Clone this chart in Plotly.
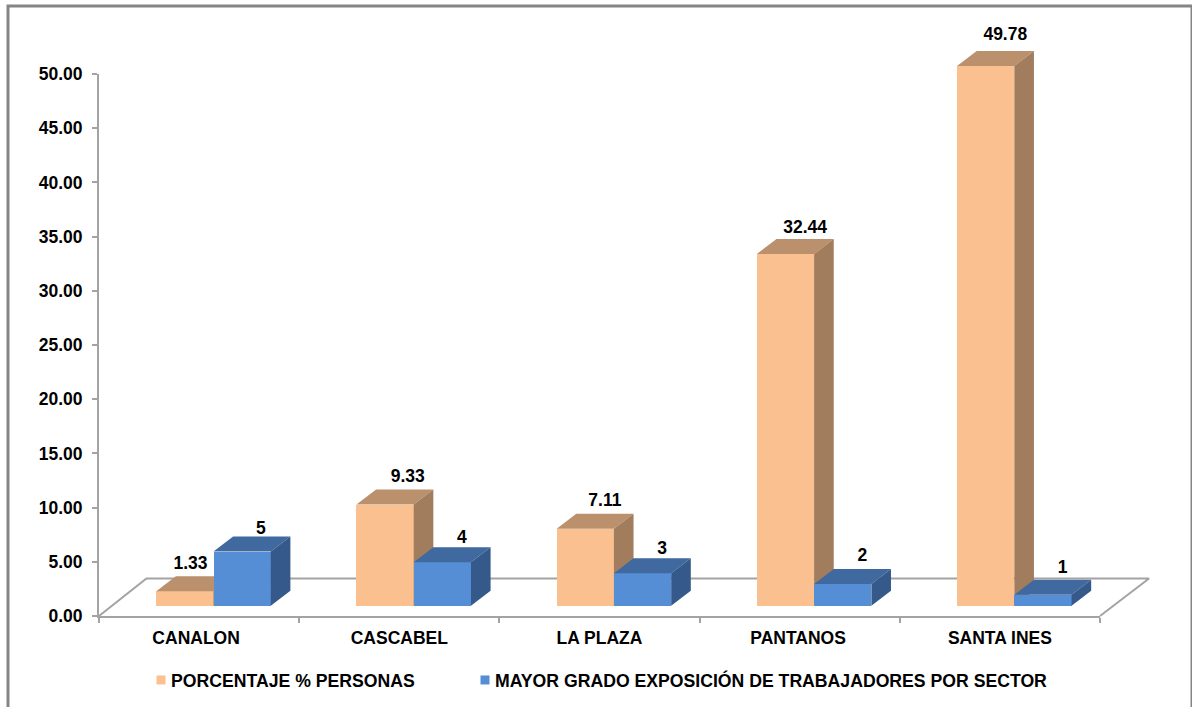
import plotly.graph_objects as go

categories = ["CANALON", "CASCABEL", "LA PLAZA", "PANTANOS", "SANTA INES"]
porcentaje = [1.33, 9.33, 7.11, 32.44, 49.78]
grado = [5, 4, 3, 2, 1]
name_a = "PORCENTAJE % PERSONAS"
name_b = "MAYOR GRADO EXPOSICIÓN DE TRABAJADORES POR SECTOR"
y_ticks = [0, 5, 10, 15, 20, 25, 30, 35, 40, 45, 50]

# page geometry
W = 1192; H = 707
L = 99; R = 1100; T = 74; B = 616        # where the drawn axes sit
OL = 40; OR = 1185; OT = 12; OB = 660    # larger area for the unclipped 3D layers
BAR_W = 0.286; SHIFT = 0.072
DX = 0.098; DY = 1.384; BASE = 0.95
FONT = "Liberation Sans, Arial, sans-serif"
GREY = "#A3A3A3"
ORANGE = ("#FAC090", "#BB906C", "#A17C5D")
BLUE = ("#558ED5", "#406A9F", "#35598A")
XR = [-0.5, 4.5]; YR = [0, 50]

ow = OR - OL; oh = OB - OT
ux = (XR[1] - XR[0]) / (R - L); uy = (YR[1] - YR[0]) / (B - T)
XR_O = [XR[0] + (OL - L) * ux, XR[1] + (OR - R) * ux]
YR_O = [YR[0] + (B - OB) * uy, YR[1] + (T - OT) * uy]


def faces(vals, left):
    tx, ty, sx, sy = [], [], [], []
    for i, v in enumerate(vals):
        a = i + left; b = a + BAR_W; t = v + BASE
        tx += [a, b, b + DX, a + DX, a, None]
        ty += [t, t, t + DY, t + DY, t, None]
        sx += [b, b + DX, b + DX, b, b, None]
        sy += [BASE, BASE + DY, t + DY, t, BASE, None]
    return (tx, ty), (sx, sy)


def poly(xy, color, xa, ya):
    return go.Scatter(x=xy[0], y=xy[1], mode="lines", fill="toself", fillcolor=color,
                      line=dict(width=0, color=color), hoverinfo="skip", showlegend=False,
                      xaxis=xa, yaxis=ya)


def bars(vals, left, color, xa, ya, name):
    return go.Bar(x=list(range(len(vals))), y=vals, base=BASE, width=BAR_W, offset=left,
                  marker=dict(color=color, line=dict(width=0)), name=name, showlegend=False,
                  xaxis=xa, yaxis=ya)


fig = go.Figure()
# carrier trace so the main axes are drawn
fig.add_trace(go.Scatter(x=[None], y=[None], mode="lines", hoverinfo="skip", showlegend=False))
# floor
fig.add_trace(go.Scatter(x=[-0.5, -0.263, 4.745, 4.5], y=[0, 3.46, 3.46, 0], mode="lines",
                         line=dict(color=GREY, width=2), hoverinfo="skip", showlegend=False,
                         xaxis="x2", yaxis="y2"))
# orange
la = SHIFT - BAR_W
ta, sa = faces(porcentaje, la)
fig.add_trace(bars(porcentaje, la, ORANGE[0], "x3", "y3", name_a))
fig.add_trace(poly(ta, ORANGE[1], "x3", "y3"))
fig.add_trace(poly(sa, ORANGE[2], "x3", "y3"))
# blue
lb = SHIFT
tb, sb = faces(grado, lb)
fig.add_trace(bars(grado, lb, BLUE[0], "x4", "y4", name_b))
fig.add_trace(poly(tb, BLUE[1], "x4", "y4"))
fig.add_trace(poly(sb, BLUE[2], "x4", "y4"))

# data labels (small hand placement, as in the reference)
nudge_ax = [-0.07, 0.015, 0, 0, 0]
nudge_ay = [0.3, 0.3, 0.3, 0.2, 0.6]
nudge_bx = [-0.005, 0, 0, 0, 0]
nudge_by = [-0.15, 0, 0, 0.35, 0.2]
label_font = dict(family=FONT, size=17.5, color="#000000", weight="bold")
fig.add_trace(go.Scatter(
    x=[i + la + BAR_W / 2 + DX + n for i, n in enumerate(nudge_ax)],
    y=[v + BASE + DY + n for v, n in zip(porcentaje, nudge_ay)], mode="text",
    text=[f"{v:.2f}" for v in porcentaje], textposition="top center", textfont=label_font,
    hoverinfo="skip", showlegend=False, xaxis="x4", yaxis="y4"))
fig.add_trace(go.Scatter(
    x=[i + lb + BAR_W / 2 + DX + n for i, n in enumerate(nudge_bx)],
    y=[v + BASE + DY + n for v, n in zip(grado, nudge_by)], mode="text",
    text=[str(v) for v in grado], textposition="top center", textfont=label_font,
    hoverinfo="skip", showlegend=False, xaxis="x4", yaxis="y4"))

# legend entries
for nm, col, lg in ((name_a, ORANGE[0], "legend"), (name_b, BLUE[0], "legend2")):
    fig.add_trace(go.Scatter(x=[None], y=[None], mode="markers", name=nm, legend=lg, showlegend=True,
                             marker=dict(symbol="square", size=9, color=col, angle=90, standoff=10)))

hidden = dict(visible=False, fixedrange=True)
legend_common = dict(orientation="h", xref="paper", yref="paper", y=(OB - 662) / oh,
                     xanchor="left", yanchor="top",
                     font=dict(family=FONT, size=17.65, weight="bold"), bgcolor="rgba(0,0,0,0)",
                     itemclick=False, itemdoubleclick=False)
tick_shift = [-0.015, 0, 0, -0.008, 0]
fig.update_layout(
    width=W, height=H, autosize=False,
    margin=dict(l=OL, r=W - OR, t=OT, b=H - OB, pad=0, autoexpand=False),
    paper_bgcolor="#FFFFFF", plot_bgcolor="rgba(0,0,0,0)",
    font=dict(family=FONT, size=17, color="#000000"),
    bargap=0,
    xaxis=dict(domain=[(L - OL) / ow, (R - OL) / ow], range=XR, anchor="y",
               tickmode="array", tickvals=[i + s for i, s in enumerate(tick_shift)], ticktext=categories,
               ticks="", showgrid=False, zeroline=False, showline=True, linecolor=GREY, linewidth=2,
               tickfont=dict(family=FONT, size=17.5, weight="bold"), ticklabelstandoff=5,
               minor=dict(tickmode="array", tickvals=[-0.5, 0.5, 1.5, 2.5, 3.5, 4.5], ticks="outside",
                          ticklen=5, tickwidth=1.5, tickcolor=GREY, showgrid=False)),
    yaxis=dict(domain=[(OB - B) / oh, (OB - T) / oh], range=YR, anchor="x",
               tickmode="array", tickvals=y_ticks, ticktext=[f"{v:.2f}" for v in y_ticks],
               ticks="outside", ticklen=5, tickwidth=1.5, tickcolor=GREY, showgrid=False, zeroline=False,
               showline=True, linecolor=GREY, linewidth=2, ticklabelstandoff=6,
               tickfont=dict(family=FONT, size=17.5, weight="bold")),
    xaxis2=dict(range=XR_O, domain=[0, 1], anchor="y2", **hidden),
    yaxis2=dict(range=YR_O, domain=[0, 1], anchor="x2", **hidden),
    xaxis3=dict(range=XR_O, domain=[0, 1], anchor="y3", **hidden),
    yaxis3=dict(range=YR_O, domain=[0, 1], anchor="x3", **hidden),
    xaxis4=dict(range=XR_O, domain=[0, 1], anchor="y4", **hidden),
    yaxis4=dict(range=YR_O, domain=[0, 1], anchor="x4", **hidden),
    legend=dict(x=(131 - OL) / ow, **legend_common),
    legend2=dict(x=(455 - OL) / ow, **legend_common),
    shapes=[dict(type="rect", xref="paper", yref="paper",
                 x0=(8 - OL) / ow, x1=(1192 - OL) / ow,
                 y0=(OB - 714) / oh, y1=(OB - 6) / oh,
                 line=dict(color="#858585", width=3), fillcolor="rgba(0,0,0,0)", layer="below")],
)

fig.write_html("out.html", config={"displayModeBar": False},
               post_script="document.body.style.margin='0';document.body.style.overflow='hidden';")
